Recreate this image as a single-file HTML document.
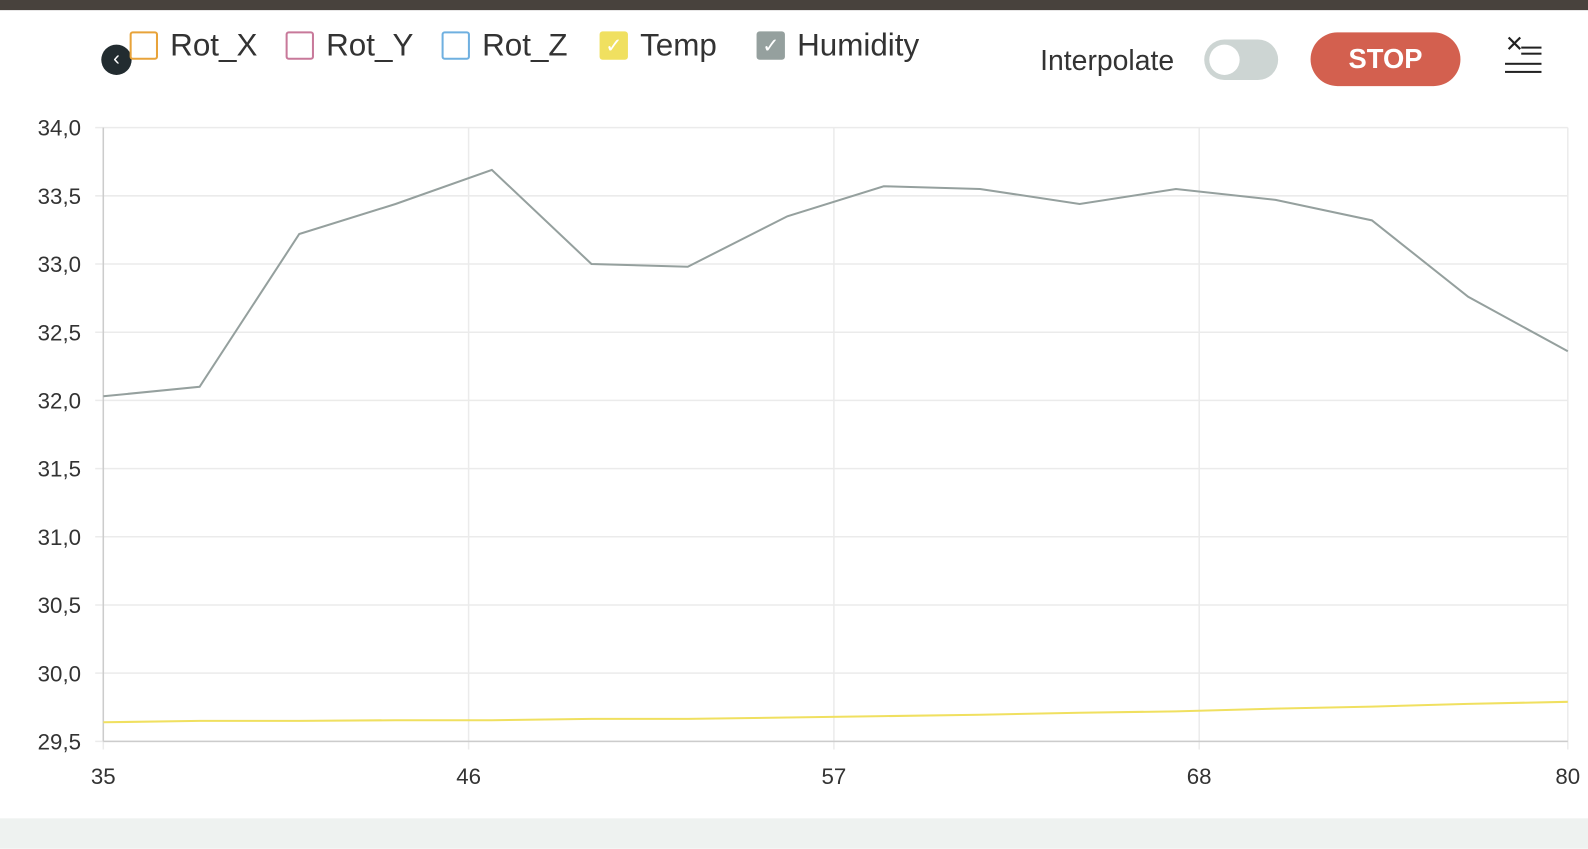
<!DOCTYPE html>
<html><head><meta charset="utf-8">
<style>
body{margin:0;width:1588px;height:832px;background:#fff;font-family:"Liberation Sans",sans-serif;position:relative;overflow:hidden}
#wrap{position:absolute;left:0;top:0;width:1568px;height:822px;transform:scale(1.0128);transform-origin:0 0}
.top{position:absolute;left:0;top:0;width:1588px;height:10px;background:#48423d}
.bottom{position:absolute;left:0;top:808px;width:1588px;height:30px;background:#eef2f0}
.leg{position:absolute;top:28px;height:34px;display:flex;align-items:center;font-size:31px;color:#333}
.box{width:28px;height:28px;box-sizing:border-box;border:2px solid;border-radius:3px;margin-right:12px;color:#fff;font-size:20px;display:flex;align-items:center;justify-content:center}
</style></head><body>
<div id="wrap">
<div class="top"></div>
<div style="position:absolute;left:100px;top:44px;width:30px;height:30px;border-radius:50%;background:#222c30;color:#fff;font-size:20px;line-height:28px;text-align:center">‹</div>
<div class="leg" style="left:128px"><div class="box" style="border-color:#e8a33a"></div>Rot_X</div>
<div class="leg" style="left:282px"><div class="box" style="border-color:#c8799a"></div>Rot_Y</div>
<div class="leg" style="left:436px"><div class="box" style="border-color:#6fb0e0"></div>Rot_Z</div>
<div class="leg" style="left:592px"><div class="box" style="border-color:#f0e060;background:#f0e060">✓</div>Temp</div>
<div class="leg" style="left:747px"><div class="box" style="border-color:#95a09e;background:#95a09e">✓</div>Humidity</div>
<div style="position:absolute;left:1027px;top:44px;font-size:28px;color:#333">Interpolate</div>
<div style="position:absolute;left:1189px;top:39px;width:73px;height:40px;border-radius:20px;background:#cdd5d3"><div style="position:absolute;left:5px;top:5px;width:30px;height:30px;border-radius:50%;background:#fff"></div></div>
<div style="position:absolute;left:1294px;top:32px;width:148px;height:53px;border-radius:27px;background:#d3604f;color:#fff;font-size:27px;font-weight:bold;text-align:center;line-height:53px">STOP</div>
<div style="position:absolute;left:1486px;top:40px;width:36px;height:34px">
<div style="position:absolute;left:0;top:-4px;font-size:22px;line-height:16px;color:#222">✕</div>
<div style="position:absolute;left:16px;top:6px;width:20px;height:2px;background:#222"></div>
<div style="position:absolute;left:16px;top:12px;width:20px;height:2px;background:#222"></div>
<div style="position:absolute;left:0;top:22px;width:36px;height:2px;background:#222"></div>
<div style="position:absolute;left:0;top:30px;width:36px;height:2px;background:#222"></div>
</div>
<svg id="chart" width="1588" height="832" style="position:absolute;left:0;top:0"></svg>
<div class="bottom"></div>
</div>
<script>
const xValues=[35,37.9,40.9,43.8,46.7,49.7,52.6,55.6,58.5,61.4,64.4,67.3,70.3,73.2,76.1,79.1];
const humidity=[32.03,32.10,33.22,33.44,33.69,33.00,32.98,33.35,33.57,33.55,33.44,33.55,33.47,33.32,32.76,32.36];
const temp=[29.64,29.65,29.65,29.655,29.655,29.665,29.665,29.675,29.685,29.695,29.71,29.72,29.74,29.755,29.775,29.79];
const yTicks=[29.5,30,30.5,31,31.5,32,32.5,33,33.5,34];
const xTicks=[35,46,57,68];
const xMaxLabel="80";
const L=102,R=1548,T=126,B=732,xMin=35,xMax=79.1,yMin=29.5,yMax=34;
const sx=v=>L+(v-xMin)/(xMax-xMin)*(R-L);
const sy=v=>B-(v-yMin)/(yMax-yMin)*(B-T);
const svg=document.getElementById('chart');const NS='http://www.w3.org/2000/svg';
function mk(t,a){const e=document.createElementNS(NS,t);for(const k in a)e.setAttribute(k,a[k]);svg.appendChild(e);return e;}
yTicks.forEach(v=>{
 const g=mk('line',{x1:L-8,x2:R,y1:sy(v),y2:sy(v),stroke:'#ebebeb','stroke-width':1.5});
 
 
 const t=mk('text',{x:L-22,y:sy(v)+8,'text-anchor':'end','font-size':22,fill:'#333','font-family':'Liberation Sans'});
 t.textContent=v.toFixed(1).replace('.',',');
 
 
});
const xt=xTicks.map(v=>[sx(v),String(v)]).concat([[R,xMaxLabel]]);
xt.forEach(([x,s])=>{
 const g=mk('line',{x1:x,x2:x,y1:T,y2:B+8,stroke:'#ebebeb','stroke-width':1.5});
 
 
 const t=mk('text',{x:x,y:B+42,'text-anchor':'middle','font-size':22,fill:'#333','font-family':'Liberation Sans'});
 t.textContent=s;
 
 
});
const ax=mk('line',{x1:L,x2:L,y1:T,y2:B,stroke:'#ccc','stroke-width':1.5});


const ax2=mk('line',{x1:L,x2:R,y1:B,y2:B,stroke:'#ccc','stroke-width':1.5});


const h=mk('polyline',{points:xValues.map((x,i)=>sx(x)+','+sy(humidity[i])).join(' '),fill:'none',stroke:'#95a09e','stroke-width':2});


const tl=mk('polyline',{points:xValues.map((x,i)=>sx(x)+','+sy(temp[i])).join(' '),fill:'none',stroke:'#f0e060','stroke-width':2});


</script>
</body></html>
